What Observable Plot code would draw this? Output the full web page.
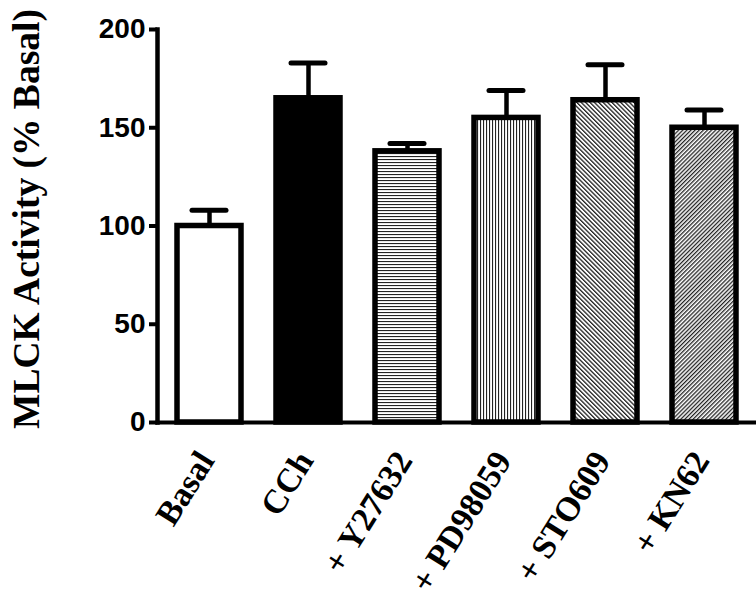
<!DOCTYPE html>
<html>
<head>
<meta charset="utf-8">
<script src="https://cdn.jsdelivr.net/npm/d3@7"></script>
<script src="https://cdn.jsdelivr.net/npm/@observablehq/plot@0.6"></script>
<style>
  html, body { margin: 0; padding: 0; background: white; }
</style>
</head>
<body>
<div id="chart"></div>
<script>
const categories = ["Basal", "CCh", "+ Y27632", "+ PD98059", "+ STO609", "+ KN62"];
const means = [100, 165, 138, 155, 164, 150];
const sems = [8, 18, 4, 14, 18, 9];
const yTicks = [0, 50, 100, 150, 200];
const yLabel = "MLCK Activity (% Basal)";

const fills = ["#ffffff", "#000000", "url(#pH)", "url(#pV)", "url(#pD1)", "url(#pD2)"];

const data = categories.map((c, i) => ({group: c, mean: means[i], top: means[i] + sems[i]}));

const svg = Plot.plot({
  width: 756,
  height: 600,
  marginTop: 29,
  marginBottom: 178,
  marginLeft: 157,
  marginRight: 0,
  style: {background: "white", color: "black"},
  x: {domain: categories, paddingInner: 0.35, paddingOuter: 0.18, axis: null},
  y: {domain: [0, 200], axis: null},
  color: {domain: categories, range: fills},
  marks: [
    Plot.ruleX(data, {x: "group", y1: "mean", y2: "top", stroke: "black", strokeWidth: 4.5}),
    Plot.tickY(data, {x: "group", y: "top", stroke: "black", strokeWidth: 5, strokeLinecap: "round", insetLeft: 15, insetRight: 15}),
    Plot.barY(data, {x: "group", y: "mean", fill: "group", stroke: "black", strokeWidth: 5.5}),
    Plot.frame({anchor: "left", stroke: "black", strokeWidth: 4.5}),
    Plot.frame({anchor: "bottom", stroke: "black", strokeWidth: 4}),
    Plot.axisY({ticks: yTicks, tickSize: 8, strokeWidth: 4, tickPadding: 4, fontSize: 28,
      fontWeight: "bold", fontFamily: "Liberation Sans, Arial, sans-serif", tickFormat: d => d, label: null,
      letterSpacing: -1}),
    Plot.text(categories, {x: d => d, y: () => 0, text: d => d, rotate: -58, textAnchor: "end",
      lineAnchor: "bottom", dx: 6, dy: 38, fontSize: 34, fontWeight: "bold",
      fontFamily: "Liberation Serif, Times New Roman, serif", fill: "black"}),
    Plot.text([yLabel], {frameAnchor: "left", text: d => d, rotate: -90, dx: -131, dy: -7,
      textAnchor: "middle", lineAnchor: "middle", fontSize: 37.5, fontWeight: "bold",
      fontFamily: "Liberation Serif, Times New Roman, serif", fill: "black"})
  ]
});

// hatch patterns for the bar fills
const defs = d3.select(svg).insert("defs", ":first-child");
function pattern(id, size, rotate, vertical, w) {
  const p = defs.append("pattern").attr("id", id).attr("patternUnits", "userSpaceOnUse")
    .attr("width", size).attr("height", size);
  if (rotate) p.attr("patternTransform", `rotate(${rotate})`);
  p.append("rect").attr("width", size).attr("height", size).attr("fill", "white");
  if (vertical) p.append("rect").attr("x", 0).attr("y", 0).attr("width", w).attr("height", size).attr("fill", "#222");
  else p.append("rect").attr("x", 0).attr("y", 0).attr("width", size).attr("height", w).attr("fill", "#222");
}
pattern("pH", 3, 0, false, 1.1);
pattern("pV", 3, 0, true, 1.1);
pattern("pD1", 3.1, -45, true, 1.3);
pattern("pD2", 2.9, 45, true, 1.3);

document.getElementById("chart").appendChild(svg);
</script>
</body>
</html>
